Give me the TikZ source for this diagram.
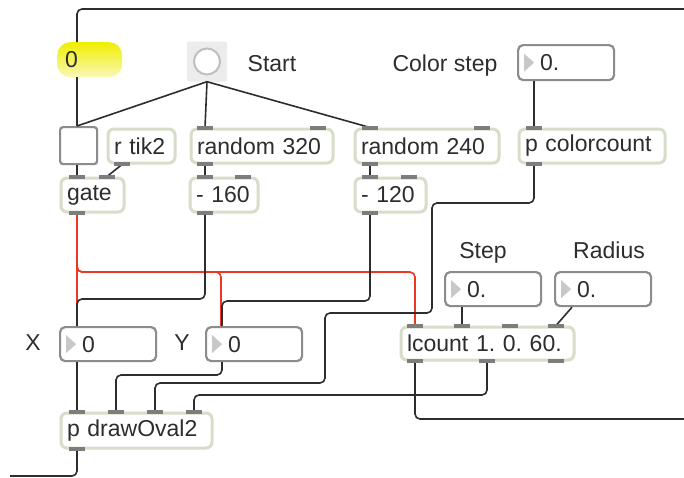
\documentclass[tikz,border=0pt]{standalone}
\usepackage{fontspec}
\setmainfont{Liberation Sans}
\usepackage{tikz}
\usetikzlibrary{positioning,calc}
\definecolor{objline}{RGB}{214,221,200}
\definecolor{numline}{RGB}{140,140,140}
\definecolor{portgray}{RGB}{125,125,125}
\definecolor{wirecol}{RGB}{45,45,45}
\definecolor{wirered}{RGB}{238,55,35}
\definecolor{txtcol}{RGB}{45,45,45}
\definecolor{msgtop}{RGB}{240,238,0}
\definecolor{msgbot}{RGB}{250,248,185}
\definecolor{bangbg}{RGB}{236,236,236}
\definecolor{tricol}{RGB}{200,200,200}
\newcommand{\maxfont}{\fontsize{23}{25}\selectfont\frenchspacing}
\newcommand{\inlet}[2]{\fill[portbar] (#2,0 |- #1.north) +(-8,-1.5) rectangle +(8,2.5);}
\newcommand{\outlet}[2]{\fill[portbar] (#2,0 |- #1.south) +(-8,1.5) rectangle +(8,-2.5);}
\tikzset{
  objbox/.style={
    draw=objline,
    line width=3pt,
    rounded corners=6pt,
    fill=white,
    anchor=north west,
    minimum height=34pt,
    inner xsep=6pt,
    inner ysep=0pt,
    align=left,
    font=\maxfont,
    text=txtcol
  },
  numbox/.style={
    draw=numline,
    line width=2.2pt,
    rounded corners=5pt,
    fill=white,
    anchor=north west,
    minimum height=34pt,
    inner xsep=4pt,
    inner ysep=0pt,
    text width=88pt,
    align=left,
    font=\maxfont,
    text=txtcol,
    execute at begin node=\hspace*{18pt},
    path picture={\fill[tricol,sharp corners] ([xshift=6pt,yshift=9pt]path picture bounding box.west)
      -- ([xshift=16pt]path picture bounding box.west)
      -- ([xshift=6pt,yshift=-9pt]path picture bounding box.west) -- cycle;}
  },
  msgbox/.style={
    top color=msgtop,
    bottom color=msgbot,
    rounded corners=13pt,
    anchor=north west,
    minimum height=35pt,
    text width=49pt,
    inner xsep=8pt,
    inner ysep=0pt,
    align=left,
    font=\maxfont,
    text=txtcol
  },
  togglebox/.style={draw=numline,line width=2.2pt,rounded corners=3pt,fill=white,
    anchor=north west,minimum size=37pt,inner sep=0pt},
  bangbox/.style={fill=bangbg,rounded corners=2pt,minimum size=40pt,inner sep=0pt,
    path picture={\draw[draw=black!25,fill=white,line width=2pt]
      (path picture bounding box.center) circle (13pt);}},
  textlabel/.style={font=\maxfont,text=txtcol,inner sep=0pt,anchor=base},
  wire/.style={draw=wirecol,line width=1.6pt,rounded corners=5pt},
  redwire/.style={wire,draw=wirered},
  portbar/.style={fill=portgray}
}
\begin{document}
\begin{tikzpicture}[x=1pt,y=-1pt]
  \useasboundingbox[fill=white] (0,0) rectangle (684,477);
  \node[msgbox] (msgzero) at (57,42) {0};
  \node[bangbox] (start) at (207,61.5) {};
  \node[textlabel] (startlbl) at (272,71) {Start};
  \node[textlabel] (colorlbl) at (445,71) {Color step};
  \node[numbox,minimum height=35pt] (colorstep) at (517,44) {0.};
  \node[togglebox] (toggle) at (59,126) {};
  \node[objbox,text width=55pt] (rtik) at (106.5,127.5) {r tik2};
  \node[objbox,text width=130pt] (rand320) at (189.5,127.5) {random 320};
  \node[objbox,text width=132pt] (rand240) at (353.5,127.5) {random 240};
  \node[objbox,text width=134pt] (colorcount) at (517.5,127.5) {p colorcount};
  \node[objbox,text width=51pt] (gate) at (59.5,176.5) {gate};
  \node[objbox,text width=56pt] (sub160) at (188.5,176.5) {- 160};
  \node[objbox,text width=59pt] (sub120) at (353.5,176.5) {- 120};
  \node[textlabel] (steplbl) at (483,258) {Step};
  \node[textlabel] (radiuslbl) at (609,258) {Radius};
  \node[numbox] (stepnum) at (444,271) {0.};
  \node[numbox] (radnum) at (554,271) {0.};
  \node[textlabel] (xlbl) at (33,350) {X};
  \node[textlabel] (ylbl) at (182,350) {Y};
  \node[numbox] (numx) at (59,326) {0};
  \node[numbox] (numy) at (205,326) {0};
  \node[objbox,text width=161pt,minimum height=33pt] (lcount) at (399.5,325.5) {lcount 1. 0. 60.};
  \node[objbox,text width=139pt,minimum height=35pt] (drawoval) at (59.5,411.5) {p drawOval2};
  \coordinate (topright) at (684,9);
  \coordinate (midright) at (684,419);
  \coordinate (bottomleft) at (10,476);
  \draw[wire] (topright) -| (77,0 |- msgzero.north);
  \draw[wire] (77,0 |- msgzero.south) -- (77,0 |- toggle.north);
  \draw[wire] (start.south) -- (77,0 |- toggle.north);
  \draw[wire] (start.south) -- (205,0 |- rand320.north);
  \draw[wire] (start.south) -- (370,0 |- rand240.north);
  \draw[wire] (77,0 |- toggle.south) -- (77,0 |- gate.north);
  \draw[wire] (122,0 |- rtik.south) -- (107,0 |- gate.north);
  \draw[wire] (205,0 |- rand320.south) -- (205,0 |- sub160.north);
  \draw[wire] (370,0 |- rand240.south) -- (370,0 |- sub120.north);
  \draw[wire] (534,0 |- colorstep.south) -- (534,0 |- colorcount.north);
  \draw[wire] (462,0 |- stepnum.south) -- (462,0 |- lcount.north);
  \draw[wire] (572,0 |- radnum.south) -- (556,0 |- lcount.north);
  \draw[redwire] (77,0 |- gate.south) -- (77,0 |- numx.north);
  \draw[redwire] (77,0 |- gate.south) -- (77,272) -- (415,272) -- (415,0 |- lcount.north);
  \draw[redwire] (77,0 |- gate.south) -- (77,272) -- (221,272) -- (221,0 |- numy.north);
  \draw[wire] (205,0 |- sub160.south) -- (205,299) -- (77,299) -- (77,0 |- numx.north);
  \draw[wire] (370,0 |- sub120.south) -- (370,301) -- (222,301) -- (222,0 |- numy.north);
  \draw[wire] (534,0 |- colorcount.south) -- (534,203) -- (432,203) -- (432,313) -- (325,313)
    -- (325,383) -- (155,383) -- (155,0 |- drawoval.north);
  \draw[wire] (77,0 |- numx.south) -- (77,0 |- drawoval.north);
  \draw[wire] (222,0 |- numy.south) -- (222,375) -- (116,375) -- (116,0 |- drawoval.north);
  \draw[wire] (487,0 |- lcount.south) -- (487,395) -- (194,395) -- (194,0 |- drawoval.north);
  \draw[wire] (415,0 |- lcount.south) -- (415,419) -- (midright);
  \draw[wire] (77,0 |- drawoval.south) -- (77,476) -- (bottomleft);
  \inlet{gate}{77} \inlet{gate}{107} \outlet{gate}{77}
  \outlet{rtik}{122}
  \inlet{rand320}{205} \inlet{rand320}{318} \outlet{rand320}{205}
  \inlet{sub160}{205} \inlet{sub160}{243} \outlet{sub160}{205}
  \inlet{rand240}{370} \inlet{rand240}{482} \outlet{rand240}{370}
  \inlet{sub120}{370} \inlet{sub120}{409} \outlet{sub120}{370}
  \inlet{colorcount}{534} \outlet{colorcount}{534}
  \inlet{lcount}{415} \inlet{lcount}{462} \inlet{lcount}{510} \inlet{lcount}{556}
  \outlet{lcount}{415} \outlet{lcount}{487} \outlet{lcount}{556}
  \inlet{drawoval}{77} \inlet{drawoval}{116} \inlet{drawoval}{155} \inlet{drawoval}{194}
  \outlet{drawoval}{77}
\end{tikzpicture}
\end{document}
